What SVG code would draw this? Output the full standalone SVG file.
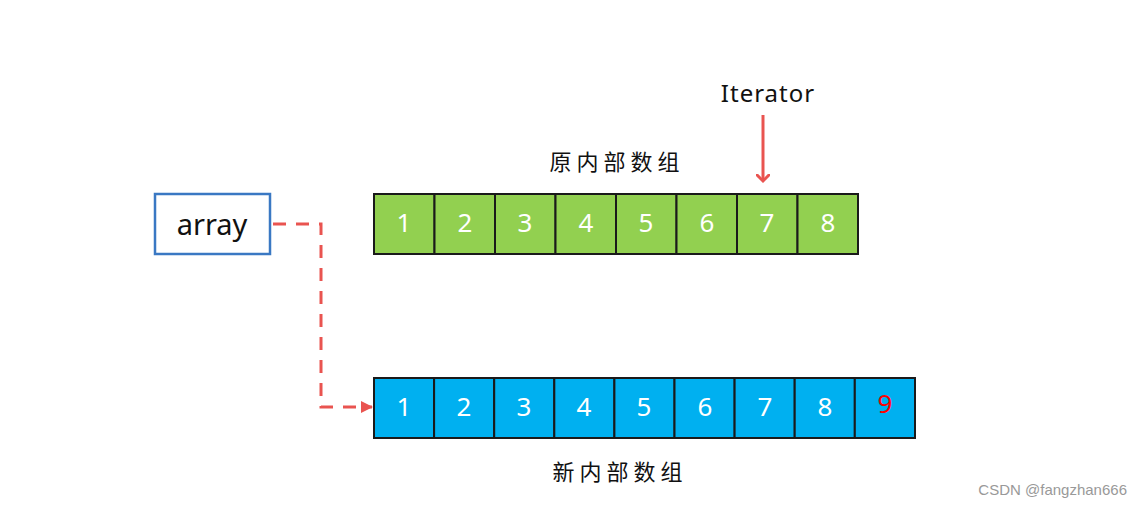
<svg xmlns="http://www.w3.org/2000/svg" width="1142" height="507" viewBox="0 0 1142 507">
<style>
.g{fill:#92d050;stroke:#1a1a1a;stroke-width:2}
.b{fill:#00b0f0;stroke:#1a1a1a;stroke-width:2}
.n{font-family:"Comic Sans MS","Noto Sans","DejaVu Sans",sans-serif;font-size:26px;fill:#fff;text-anchor:middle}
.t{font-family:"Noto Sans","Noto Sans CJK SC",sans-serif;font-size:22px;fill:#111;text-anchor:middle;letter-spacing:5px}
</style>
<defs>
<marker id="ah" markerWidth="12" markerHeight="12" refX="11" refY="6" orient="auto" markerUnits="userSpaceOnUse" viewBox="0 0 12 12"><path d="M0,0 L12,6 L0,12 Z" fill="#e95450"/></marker>
<marker id="ah2" markerWidth="14" markerHeight="14" refX="7" refY="7" orient="auto" markerUnits="userSpaceOnUse" viewBox="0 0 14 14"><path d="M1,1 L7,7 L1,13" fill="none" stroke="#e95450" stroke-width="3" stroke-linecap="round"/></marker>
</defs>
<rect width="1142" height="507" fill="#fff"/>
<g id="array">
<rect x="155" y="194" width="115" height="60" fill="#fff" stroke="#3a78c3" stroke-width="2.5"/>
<text x="212" y="235" font-family="Noto Sans,DejaVu Sans,sans-serif" font-size="29" fill="#111" text-anchor="middle">array</text>
</g>
<g id="old">
<rect class="g" x="374" y="194" width="60.5" height="60"/>
<rect class="g" x="434.5" y="194" width="60.5" height="60"/>
<rect class="g" x="495" y="194" width="60.5" height="60"/>
<rect class="g" x="555.5" y="194" width="60.5" height="60"/>
<rect class="g" x="616" y="194" width="60.5" height="60"/>
<rect class="g" x="676.5" y="194" width="60.5" height="60"/>
<rect class="g" x="737" y="194" width="60.5" height="60"/>
<rect class="g" x="797.5" y="194" width="60.5" height="60"/>
<text class="n" x="404" y="232">1</text>
<text class="n" x="465" y="232">2</text>
<text class="n" x="525" y="232">3</text>
<text class="n" x="586" y="232">4</text>
<text class="n" x="646" y="232">5</text>
<text class="n" x="707" y="232">6</text>
<text class="n" x="767" y="232">7</text>
<text class="n" x="828" y="232">8</text>
</g>
<g id="new">
<rect class="b" x="374" y="378" width="60.1" height="60"/>
<rect class="b" x="434.1" y="378" width="60.1" height="60"/>
<rect class="b" x="494.2" y="378" width="60.1" height="60"/>
<rect class="b" x="554.3" y="378" width="60.1" height="60"/>
<rect class="b" x="614.4" y="378" width="60.1" height="60"/>
<rect class="b" x="674.5" y="378" width="60.1" height="60"/>
<rect class="b" x="734.6" y="378" width="60.1" height="60"/>
<rect class="b" x="794.7" y="378" width="60.1" height="60"/>
<rect class="b" x="854.8" y="378" width="60.2" height="60"/>
<text class="n" x="404" y="416">1</text>
<text class="n" x="464" y="416">2</text>
<text class="n" x="524" y="416">3</text>
<text class="n" x="584" y="416">4</text>
<text class="n" x="644" y="416">5</text>
<text class="n" x="705" y="416">6</text>
<text class="n" x="765" y="416">7</text>
<text class="n" x="825" y="416">8</text>
<text class="n" x="885" y="413" style="fill:#ff0000">9</text>
</g>
<g id="labels">
<text class="t" x="617" y="170">原内部数组</text>
<text class="t" x="620" y="480">新内部数组</text>
<text x="768" y="102" font-family="Noto Sans,DejaVu Sans,sans-serif" font-size="24" letter-spacing="1" fill="#111" text-anchor="middle">Iterator</text>
<text x="1127" y="495" font-family="Liberation Sans,Arial,sans-serif" font-size="15" fill="#999" text-anchor="end">CSDN @fangzhan666</text>
</g>
<g id="connectors" fill="none" stroke="#e95450" stroke-width="3">
<path d="M273,224 H321 V407 H372" stroke-dasharray="13,10" marker-end="url(#ah)"/>
<path d="M763,115 V181" marker-end="url(#ah2)"/>
</g>
</svg>
